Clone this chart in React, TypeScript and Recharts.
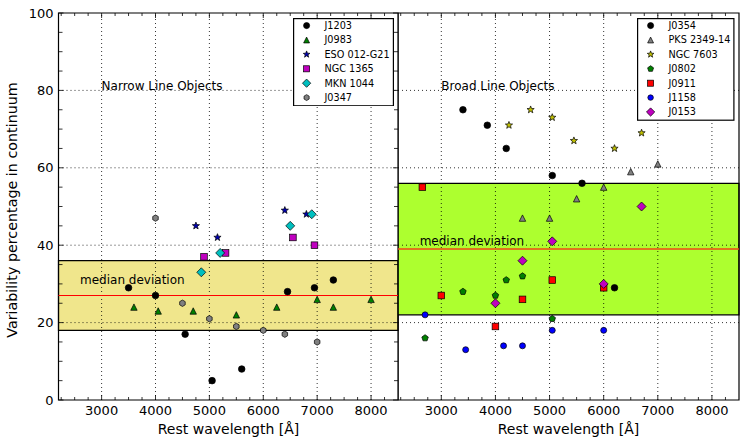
import React from 'react';
import { ScatterChart, Scatter, XAxis, YAxis, ReferenceArea, ReferenceLine, ReferenceDot } from 'recharts';

// axis ticks
const xTicks = [2250, 2500, 2750, 3000, 3250, 3500, 3750, 4000, 4250, 4500, 4750, 5000, 5250, 5500, 5750, 6000, 6250, 6500, 6750, 7000, 7250, 7500, 7750, 8000, 8250];
const yTicks = [0, 5, 10, 15, 20, 25, 30, 35, 40, 45, 50, 55, 60, 65, 70, 75, 80, 85, 90, 95, 100];
const xGrid = [3000, 4000, 5000, 6000, 7000, 8000];
const yGrid = [20, 40, 60, 80];

// narrow line objects
const j1203 = [{ x: 3500, y: 29 }, { x: 4000, y: 27 }, { x: 4550, y: 17 }, { x: 5050, y: 5 }, { x: 5600, y: 8 }, { x: 6450, y: 28 }, { x: 6950, y: 29 }, { x: 7300, y: 31 }];
const j0983 = [{ x: 3600, y: 24 }, { x: 4050, y: 23 }, { x: 4700, y: 23 }, { x: 5500, y: 22 }, { x: 6250, y: 24 }, { x: 7000, y: 26 }, { x: 7300, y: 24 }, { x: 8000, y: 26 }];
const eso012 = [{ x: 4750, y: 45 }, { x: 5150, y: 42 }, { x: 6400, y: 49 }, { x: 6800, y: 48 }];
const ngc1365 = [{ x: 4900, y: 37 }, { x: 5300, y: 38 }, { x: 6550, y: 42 }, { x: 6950, y: 40 }];
const mkn1044 = [{ x: 4850, y: 33 }, { x: 5200, y: 38 }, { x: 6500, y: 45 }, { x: 6900, y: 48 }];
const j0347 = [{ x: 4000, y: 47 }, { x: 4500, y: 25 }, { x: 5000, y: 21 }, { x: 5500, y: 19 }, { x: 6000, y: 18 }, { x: 6400, y: 17 }, { x: 7000, y: 15 }];

// broad line objects
const j0354 = [{ x: 3400, y: 75 }, { x: 3850, y: 71 }, { x: 4200, y: 65 }, { x: 5050, y: 58 }, { x: 5600, y: 56 }, { x: 6200, y: 29 }];
const pks2349 = [{ x: 4500, y: 47 }, { x: 5000, y: 47 }, { x: 5500, y: 52 }, { x: 6000, y: 55 }, { x: 6500, y: 59 }, { x: 7000, y: 61 }];
const ngc7603 = [{ x: 4250, y: 71 }, { x: 4650, y: 75 }, { x: 5050, y: 73 }, { x: 5450, y: 67 }, { x: 6200, y: 65 }, { x: 6700, y: 69 }];
const j0802 = [{ x: 2700, y: 16 }, { x: 3400, y: 28 }, { x: 4000, y: 27 }, { x: 4200, y: 31 }, { x: 4500, y: 32 }, { x: 5050, y: 21 }];
const j0911 = [{ x: 2650, y: 55 }, { x: 3000, y: 27 }, { x: 4000, y: 19 }, { x: 4500, y: 26 }, { x: 5050, y: 31 }, { x: 6000, y: 29 }];
const j1158 = [{ x: 2700, y: 22 }, { x: 3450, y: 13 }, { x: 4150, y: 14 }, { x: 4500, y: 14 }, { x: 5050, y: 18 }, { x: 6000, y: 18 }];
const j0153 = [{ x: 4000, y: 25 }, { x: 4500, y: 36 }, { x: 5050, y: 41 }, { x: 6000, y: 30 }, { x: 6700, y: 50 }];

// median deviation bands [low, median, high]
const narrowBand = [18, 27, 36];
const broadBand = [22, 39, 56];

const FONT = '"DejaVu Sans", sans-serif';
const PLOT_H = 448 - 13 - 48;

type Kind = 'circle' | 'triangle' | 'star' | 'square' | 'diamond' | 'hexagon' | 'pentagon';

interface SeriesDef {
  name: string;
  data: { x: number; y: number }[];
  kind: Kind;
  fill: string;
  size: number;
}

const narrowSeries: SeriesDef[] = [
  { name: 'J1203', data: j1203, kind: 'circle', fill: '#000000', size: 3.3 },
  { name: 'J0983', data: j0983, kind: 'triangle', fill: '#008000', size: 3.2 },
  { name: 'ESO 012-G21', data: eso012, kind: 'star', fill: '#0000b0', size: 3.8 },
  { name: 'NGC 1365', data: ngc1365, kind: 'square', fill: '#bf00bf', size: 3.3 },
  { name: 'MKN 1044', data: mkn1044, kind: 'diamond', fill: '#00bfbf', size: 4.5 },
  { name: 'J0347', data: j0347, kind: 'hexagon', fill: '#808080', size: 3.2 },
];

const broadSeries: SeriesDef[] = [
  { name: 'J0354', data: j0354, kind: 'circle', fill: '#000000', size: 3.3 },
  { name: 'PKS 2349-14', data: pks2349, kind: 'triangle', fill: '#808080', size: 3.2 },
  { name: 'NGC 7603', data: ngc7603, kind: 'star', fill: '#bfbf00', size: 3.8 },
  { name: 'J0802', data: j0802, kind: 'pentagon', fill: '#008000', size: 3.4 },
  { name: 'J0911', data: j0911, kind: 'square', fill: '#ff0000', size: 3.3 },
  { name: 'J1158', data: j1158, kind: 'circle', fill: '#0000ff', size: 3 },
  { name: 'J0153', data: j0153, kind: 'diamond', fill: '#bf00bf', size: 4.5 },
];

function polygon(cx: number, cy: number, r: number, n: number, inner?: number) {
  const pts: string[] = [];
  const count = inner ? n * 2 : n;
  for (let i = 0; i < count; i++) {
    const rad = inner && i % 2 === 1 ? inner : r;
    const a = -Math.PI / 2 + (i * 2 * Math.PI) / count;
    pts.push(`${cx + rad * Math.cos(a)},${cy + rad * Math.sin(a)}`);
  }
  return pts.join(' ');
}

function Marker({ cx, cy, kind, fill, size }: { cx: number; cy: number; kind: Kind; fill: string; size: number }) {
  const s = size;
  const common = { fill, stroke: '#000', strokeWidth: 0.7 };
  switch (kind) {
    case 'circle':
      return <circle cx={cx} cy={cy} r={s} {...common} />;
    case 'square':
      return <rect x={cx - s} y={cy - s} width={2 * s} height={2 * s} {...common} />;
    case 'triangle':
      return <polygon points={`${cx},${cy - s} ${cx - s},${cy + s} ${cx + s},${cy + s}`} {...common} />;
    case 'diamond':
      return <polygon points={`${cx},${cy - s} ${cx + s},${cy} ${cx},${cy + s} ${cx - s},${cy}`} {...common} />;
    case 'star':
      return <polygon points={polygon(cx, cy, s, 5, s * 0.42)} {...common} />;
    case 'pentagon':
      return <polygon points={polygon(cx, cy, s, 5)} {...common} />;
    case 'hexagon':
      return <polygon points={polygon(cx, cy, s, 6)} {...common} />;
  }
  return null;
}

function XTick(props: any) {
  const { x, y, payload } = props;
  const major = payload.value % 1000 === 0;
  const len = major ? 5 : 3;
  return (
    <g>
      <line x1={x} y1={y} x2={x} y2={y - len} stroke="#000" strokeWidth={0.8} />
      <line x1={x} y1={y - PLOT_H} x2={x} y2={y - PLOT_H + len} stroke="#000" strokeWidth={0.8} />
      {major && (
        <text x={x} y={y + 15} textAnchor="middle" fontSize={13} fill="#000" fontFamily={FONT}>
          {payload.value}
        </text>
      )}
    </g>
  );
}

function YTick(props: any) {
  const { x, y, payload, plotW, showLabels } = props;
  const major = payload.value % 20 === 0;
  const len = major ? 5 : 4;
  return (
    <g>
      <line x1={x} y1={y} x2={x + len} y2={y} stroke="#000" strokeWidth={0.8} />
      <line x1={x + plotW} y1={y} x2={x + plotW - len} y2={y} stroke="#000" strokeWidth={0.8} />
      {showLabels && major && (
        <text x={x - 5} y={y} dy="0.36em" textAnchor="end" fontSize={13} fill="#000" fontFamily={FONT}>
          {payload.value}
        </text>
      )}
    </g>
  );
}

function LegendBox({ left, top, width, items }: { left: number; top: number; width: number; items: SeriesDef[] }) {
  const rowH = 14.4;
  const height = 7.4 + (items.length - 1) * rowH + 9;
  return (
    <svg width={width} height={height} style={{ position: 'absolute', left, top }}>
      <rect x={0.6} y={0.6} width={width - 1.2} height={height - 1.2} fill="#fff" stroke="#000" strokeWidth={1.2} />
      {items.map((s, i) => (
        <g key={s.name}>
          <Marker cx={13.6} cy={7.6 + i * rowH} kind={s.kind} fill={s.fill} size={s.size * 0.92} />
          <text x={31.5} y={7.6 + i * rowH} dy="0.36em" fontSize={9.7} fill="#000" fontFamily={FONT}>
            {s.name}
          </text>
        </g>
      ))}
    </svg>
  );
}

interface PanelProps {
  left: number;
  width: number;
  marginRight: number;
  yAxisWidth: number;
  showYLabels: boolean;
  series: SeriesDef[];
  band: number[];
  bandFill: string;
  medianStroke: string;
  medianWidth: number;
  title: string;
  medianLabelY: number;
}

function Panel(p: PanelProps) {
  const plotW = p.width - p.yAxisWidth - p.marginRight;
  return (
    <div style={{ position: 'absolute', left: p.left, top: 0 }}>
      <ScatterChart width={p.width} height={448} margin={{ top: 13, right: p.marginRight, bottom: 0, left: 0 }}>
        <XAxis
          xAxisId="x"
          type="number"
          dataKey="x"
          domain={[2200, 8500]}
          allowDataOverflow
          ticks={xTicks}
          interval={0}
          tickSize={0}
          tickMargin={0}
          axisLine={false}
          tickLine={false}
          height={48}
          tick={<XTick />}
        />
        <YAxis
          yAxisId="y"
          type="number"
          dataKey="y"
          domain={[0, 100]}
          allowDataOverflow
          ticks={yTicks}
          interval={0}
          tickSize={0}
          tickMargin={0}
          axisLine={false}
          tickLine={false}
          width={p.yAxisWidth}
          tick={<YTick plotW={plotW} showLabels={p.showYLabels} />}
        />
        <ReferenceArea
          xAxisId="x"
          yAxisId="y"
          y1={p.band[0]}
          y2={p.band[2]}
          fill={p.bandFill}
          fillOpacity={1}
          stroke="#000"
          strokeWidth={1.2}
        />
        {xGrid.map((v) => (
          <ReferenceLine key={`gx${v}`} xAxisId="x" yAxisId="y" x={v} stroke="#000" strokeWidth={0.8} strokeDasharray="1 3" />
        ))}
        {yGrid.map((v) => (
          <ReferenceLine key={`gy${v}`} xAxisId="x" yAxisId="y" y={v} stroke="#000" strokeWidth={0.8} strokeDasharray="1 3" />
        ))}
        <ReferenceLine xAxisId="x" yAxisId="y" y={p.band[1]} stroke={p.medianStroke} strokeWidth={p.medianWidth} />
        <ReferenceDot
          xAxisId="x"
          yAxisId="y"
          x={3000}
          y={80}
          r={1}
          shape={(d: any) => (
            <text x={d.cx} y={d.cy} fontSize={12} fill="#000" fontFamily={FONT}>
              {p.title}
            </text>
          )}
        />
        <ReferenceDot
          xAxisId="x"
          yAxisId="y"
          x={2600}
          y={p.medianLabelY}
          r={1}
          shape={(d: any) => (
            <text x={d.cx} y={d.cy} fontSize={12} fill="#000" fontFamily={FONT}>
              median deviation
            </text>
          )}
        />
        {p.series.map((s) => (
          <Scatter
            key={s.name}
            name={s.name}
            xAxisId="x"
            yAxisId="y"
            data={s.data}
            isAnimationActive={false}
            shape={(d: any) => <Marker cx={d.cx} cy={d.cy} kind={s.kind} fill={s.fill} size={s.size} />}
          />
        ))}
        <ReferenceArea xAxisId="x" yAxisId="y" x1={2200} x2={8500} y1={0} y2={100} fill="none" stroke="#000" strokeWidth={1.2} />
      </ScatterChart>
    </div>
  );
}

export default function App() {
  return (
    <div style={{ position: 'relative', width: 747, height: 448, background: '#fff', fontFamily: FONT, overflow: 'hidden' }}>
      <style>{'body{margin:0}'}</style>
      <Panel
        left={0}
        width={399}
        marginRight={1}
        yAxisWidth={58.5}
        showYLabels
        series={narrowSeries}
        band={narrowBand}
        bandFill="#f0e68c"
        medianStroke="#ff0000"
        medianWidth={1.2}
        title="Narrow Line Objects"
        medianLabelY={30}
      />
      <Panel
        left={398}
        width={349}
        marginRight={8}
        yAxisWidth={0}
        showYLabels={false}
        series={broadSeries}
        band={broadBand}
        bandFill="#adff2f"
        medianStroke="#f04818"
        medianWidth={1.5}
        title="Broad Line Objects"
        medianLabelY={40}
      />
      <LegendBox left={293} top={18} width={101} items={narrowSeries} />
      <LegendBox left={637} top={18} width={97.5} items={broadSeries} />
      <svg width={747} height={448} style={{ position: 'absolute', left: 0, top: 0, pointerEvents: 'none' }}>
        <text x={12} y={210} transform="rotate(-90 12 210)" textAnchor="middle" dy="0.36em" fontSize={14.3} fill="#000" fontFamily={FONT}>
          Variability percentage in continuum
        </text>
        <text x={228.5} y={434} textAnchor="middle" fontSize={14} fill="#000" fontFamily={FONT}>
          Rest wavelength [Å]
        </text>
        <text x={568.5} y={434} textAnchor="middle" fontSize={14} fill="#000" fontFamily={FONT}>
          Rest wavelength [Å]
        </text>
      </svg>
    </div>
  );
}
